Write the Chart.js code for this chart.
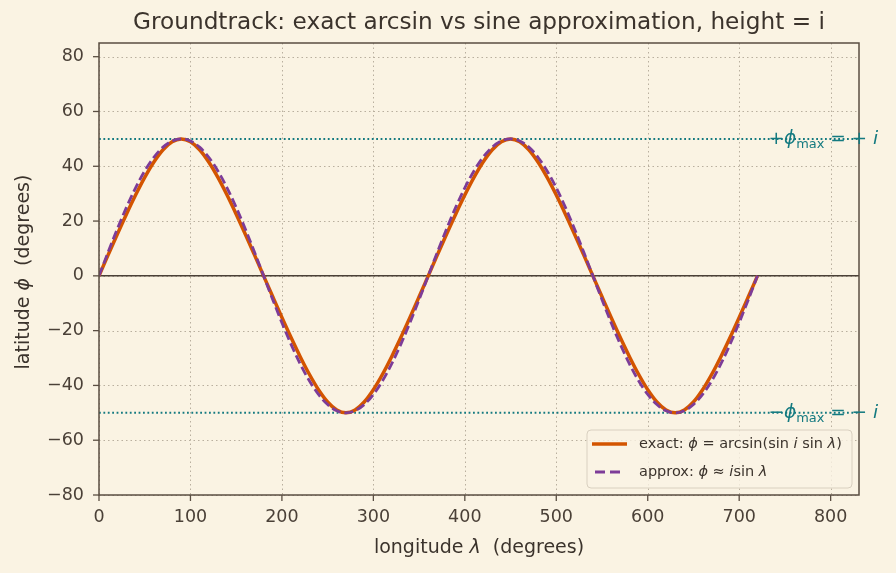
<!DOCTYPE html>
<html>
<head>
<meta charset="utf-8">
<script src="https://cdn.jsdelivr.net/npm/chart.js@4.4.1/dist/chart.umd.min.js"></script>
<style>
  html, body { margin: 0; padding: 0; background: #faf3e3; }
  canvas { display: block; }
</style>
</head>
<body>
<canvas id="groundtrack" width="896" height="573"></canvas>
<script>
// longitude samples (degrees)
const longitude = [0, 10, 20, 30, 40, 50, 60, 70, 80, 90, 100, 110, 120, 130, 140, 150, 160, 170, 180,
  190, 200, 210, 220, 230, 240, 250, 260, 270, 280, 290, 300, 310, 320, 330, 340, 350, 360,
  370, 380, 390, 400, 410, 420, 430, 440, 450, 460, 470, 480, 490, 500, 510, 520, 530, 540,
  550, 560, 570, 580, 590, 600, 610, 620, 630, 640, 650, 660, 670, 680, 690, 700, 710, 720];

// exact latitude (degrees)
const latExact = [0, 7.64, 15.19, 22.52, 29.5, 35.93, 41.56, 46.04, 48.97, 50, 48.97, 46.04, 41.56, 35.93, 29.5, 22.52, 15.19, 7.64, 0,
  -7.64, -15.19, -22.52, -29.5, -35.93, -41.56, -46.04, -48.97, -50, -48.97, -46.04, -41.56, -35.93, -29.5, -22.52, -15.19, -7.64, 0,
  7.64, 15.19, 22.52, 29.5, 35.93, 41.56, 46.04, 48.97, 50, 48.97, 46.04, 41.56, 35.93, 29.5, 22.52, 15.19, 7.64, 0,
  -7.64, -15.19, -22.52, -29.5, -35.93, -41.56, -46.04, -48.97, -50, -48.97, -46.04, -41.56, -35.93, -29.5, -22.52, -15.19, -7.64, 0];

// sine approximation (degrees)
const latApprox = [0, 8.68, 17.1, 25, 32.14, 38.3, 43.3, 46.98, 49.24, 50, 49.24, 46.98, 43.3, 38.3, 32.14, 25, 17.1, 8.68, 0,
  -8.68, -17.1, -25, -32.14, -38.3, -43.3, -46.98, -49.24, -50, -49.24, -46.98, -43.3, -38.3, -32.14, -25, -17.1, -8.68, 0,
  8.68, 17.1, 25, 32.14, 38.3, 43.3, 46.98, 49.24, 50, 49.24, 46.98, 43.3, 38.3, 32.14, 25, 17.1, 8.68, 0,
  -8.68, -17.1, -25, -32.14, -38.3, -43.3, -46.98, -49.24, -50, -49.24, -46.98, -43.3, -38.3, -32.14, -25, -17.1, -8.68, 0];

const xTicks = [0, 100, 200, 300, 400, 500, 600, 700, 800];
const yTicks = [-80, -60, -40, -20, 0, 20, 40, 60, 80];
const phiMax = 50;
const xRange = [0, 831];
const yRange = [-80, 85];

const BG = "#faf3e3";
const INK = "#3b332c";
const AXIS = "#5a4e42";
const ORANGE = "#d35400";
const PURPLE = "#7d3c98";
const TEAL = "#147a80";
const FONT = "'DejaVu Sans'";

Chart.defaults.font.family = FONT;
Chart.defaults.color = INK;

// text with mixed italic / subscript parts
function richWidth(ctx, parts, size) {
  let w = 0;
  parts.forEach(p => {
    const s = p.sub ? size * 0.7 : size;
    ctx.font = (p.it ? "italic " : "") + s + "px " + FONT;
    w += ctx.measureText(p.t).width;
  });
  return w;
}
function drawRich(ctx, parts, x, y, size, align) {
  let w = richWidth(ctx, parts, size);
  let cx = align === "center" ? x - w / 2 : align === "right" ? x - w : x;
  ctx.textBaseline = "middle";
  ctx.textAlign = "left";
  parts.forEach(p => {
    const s = p.sub ? size * 0.7 : size;
    ctx.font = (p.it ? "italic " : "") + s + "px " + FONT;
    ctx.fillText(p.t, cx, y + (p.sub ? size * 0.3 : 0));
    cx += ctx.measureText(p.t).width;
  });
}

const decorPlugin = {
  id: "decor",
  beforeDraw(chart) {
    const ctx = chart.ctx;
    ctx.save();
    ctx.fillStyle = BG;
    ctx.fillRect(0, 0, chart.width, chart.height);
    ctx.restore();
  },
  beforeDatasetsDraw(chart) {
    const { ctx, chartArea: a, scales: { x, y } } = chart;
    ctx.save();
    ctx.strokeStyle = "#b9af9e";
    ctx.lineWidth = 1;
    ctx.setLineDash([1.5, 3]);
    xTicks.forEach(v => {
      const px = Math.round(x.getPixelForValue(v)) + 0.5;
      ctx.beginPath(); ctx.moveTo(px, a.top); ctx.lineTo(px, a.bottom); ctx.stroke();
    });
    yTicks.forEach(v => {
      const py = Math.round(y.getPixelForValue(v)) + 0.5;
      ctx.beginPath(); ctx.moveTo(a.left, py); ctx.lineTo(a.right, py); ctx.stroke();
    });
    ctx.restore();
  },
  afterDatasetsDraw(chart) {
    const { ctx, chartArea: a, scales: { x, y } } = chart;
    ctx.save();

    // frame and tick marks
    ctx.setLineDash([]);
    ctx.strokeStyle = AXIS;
    ctx.lineWidth = 1.5;
    ctx.strokeRect(a.left, a.top, a.right - a.left, a.bottom - a.top);
    ctx.lineWidth = 1.3;
    xTicks.forEach(v => {
      const px = x.getPixelForValue(v);
      ctx.beginPath(); ctx.moveTo(px, a.bottom); ctx.lineTo(px, a.bottom + 6); ctx.stroke();
    });
    yTicks.forEach(v => {
      const py = y.getPixelForValue(v);
      ctx.beginPath(); ctx.moveTo(a.left - 6, py); ctx.lineTo(a.left, py); ctx.stroke();
    });

    // ±phi_max labels
    ctx.fillStyle = TEAL;
    const lx = x.getPixelForValue(732);
    drawRich(ctx, [{ t: "+" }, { t: "ϕ", it: true }, { t: "max", sub: true }, { t: " = + " }, { t: "i", it: true }],
      lx, y.getPixelForValue(phiMax), 18.5, "left");
    drawRich(ctx, [{ t: "−" }, { t: "ϕ", it: true }, { t: "max", sub: true }, { t: " = − " }, { t: "i", it: true }],
      lx, y.getPixelForValue(-phiMax), 18.5, "left");

    // legend
    const lg = { left: 587, top: 430, right: 852, bottom: 488 };
    ctx.globalAlpha = 0.8;
    ctx.fillStyle = BG;
    ctx.beginPath();
    ctx.roundRect(lg.left, lg.top, lg.right - lg.left, lg.bottom - lg.top, 4);
    ctx.fill();
    ctx.globalAlpha = 1;
    ctx.strokeStyle = "#d9d0c0";
    ctx.lineWidth = 1;
    ctx.stroke();

    ctx.lineWidth = 3.5;
    ctx.strokeStyle = ORANGE;
    ctx.beginPath(); ctx.moveTo(592, 444); ctx.lineTo(627, 444); ctx.stroke();
    ctx.lineWidth = 2.8;
    ctx.strokeStyle = PURPLE;
    ctx.setLineDash([10, 5]);
    ctx.beginPath(); ctx.moveTo(595, 472); ctx.lineTo(622, 472); ctx.stroke();
    ctx.setLineDash([]);

    ctx.fillStyle = INK;
    drawRich(ctx, [{ t: "exact: " }, { t: "ϕ", it: true }, { t: " = arcsin(sin " }, { t: "i", it: true },
      { t: " sin " }, { t: "λ", it: true }, { t: ")" }], 639, 444, 14.5, "left");
    drawRich(ctx, [{ t: "approx: " }, { t: "ϕ", it: true }, { t: " ≈ " }, { t: "i", it: true },
      { t: "sin " }, { t: "λ", it: true }], 639, 472, 14.5, "left");

    // title and axis labels
    const cx = (a.left + a.right) / 2;
    ctx.fillStyle = INK;
    drawRich(ctx, [{ t: "Groundtrack: exact arcsin vs sine approximation, height = i" }], cx, 23, 23.2, "center");
    drawRich(ctx, [{ t: "longitude " }, { t: "λ", it: true }, { t: "  (degrees)" }], cx, 548, 19, "center");
    ctx.translate(24, (a.top + a.bottom) / 2 + 3);
    ctx.rotate(-Math.PI / 2);
    drawRich(ctx, [{ t: "latitude " }, { t: "ϕ", it: true }, { t: "  (degrees)" }], 0, 0, 19, "center");
    ctx.restore();
  }
};

const toPoints = ys => longitude.map((lon, i) => ({ x: lon, y: ys[i] }));
const hLine = v => xRange.map(lon => ({ x: lon, y: v }));

new Chart(document.getElementById("groundtrack"), {
  type: "line",
  data: {
    datasets: [
      {
        label: "approx",
        data: toPoints(latApprox),
        borderColor: PURPLE,
        borderWidth: 2.8,
        borderDash: [9, 4],
        cubicInterpolationMode: "monotone",
        order: 0
      },
      {
        label: "exact",
        data: toPoints(latExact),
        borderColor: ORANGE,
        borderWidth: 3.5,
        cubicInterpolationMode: "monotone",
        order: 1
      },
      { data: hLine(0), borderColor: "#4a4037", borderWidth: 1.5, order: 2 },
      { data: hLine(phiMax), borderColor: TEAL, borderWidth: 2, borderDash: [1.8, 2.6], order: 3 },
      { data: hLine(-phiMax), borderColor: TEAL, borderWidth: 2, borderDash: [1.8, 2.6], order: 3 }
    ]
  },
  options: {
    responsive: false,
    animation: false,
    devicePixelRatio: 1,
    layout: { padding: { left: 0, right: 37, top: 43, bottom: 0 } },
    elements: { point: { radius: 0 }, line: { borderCapStyle: "butt" } },
    plugins: { legend: { display: false }, tooltip: { enabled: false } },
    scales: {
      x: {
        type: "linear",
        min: xRange[0],
        max: xRange[1],
        afterBuildTicks: s => { s.ticks = xTicks.map(v => ({ value: v })); },
        afterFit: s => { s.height = 78; },
        grid: { display: false, drawTicks: false },
        border: { display: false },
        ticks: { padding: 12, color: "#4a4037", font: { size: 17.5 }, maxRotation: 0 }
      },
      y: {
        type: "linear",
        min: yRange[0],
        max: yRange[1],
        afterBuildTicks: s => { s.ticks = yTicks.map(v => ({ value: v })); },
        afterFit: s => { s.width = 99; },
        grid: { display: false, drawTicks: false },
        border: { display: false },
        ticks: {
          padding: 15, color: "#4a4037", font: { size: 17.5 },
          callback: v => String(v).replace("-", "−")
        }
      }
    }
  },
  plugins: [decorPlugin]
});
</script>
</body>
</html>
